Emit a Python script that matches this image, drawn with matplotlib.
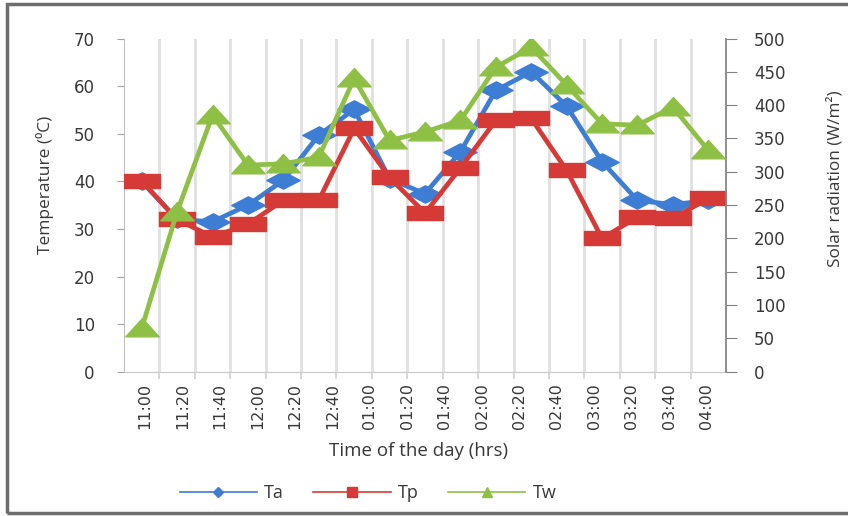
import numpy as np
import matplotlib
matplotlib.use('Agg')
import matplotlib.pyplot as plt
from matplotlib.path import Path
from matplotlib.lines import Line2D
from matplotlib.patches import Rectangle

# tick labels on the time axis (16 labels, 17 readings)
times = ['11:00', '11:20', '11:40', '12:00', '12:20', '12:40', '01:00', '01:20',
         '01:40', '02:00', '02:20', '02:40', '03:00', '03:20', '03:40', '04:00']
# temperatures (deg C), left axis
ta = [40.0, 32.0, 31.5, 35.0, 40.2, 49.7, 55.1, 40.5, 37.4, 46.2, 59.1, 63.0, 55.8, 44.1, 36.0, 35.1, 36.0]
tp = [40.0, 32.0, 28.3, 31.0, 36.0, 36.0, 51.1, 40.8, 33.3, 42.8, 52.8, 53.2, 42.3, 28.0, 32.5, 32.2, 36.4]
# solar radiation (W/m2), right axis
tw = [65, 240, 385, 310, 312, 322, 440, 347, 360, 377, 457, 487, 430, 372, 370, 397, 332]

blue = '#3D7DD3'
red = '#D63A36'
green = '#8FC046'
txt = '#383838'

# wide markers (the picture is stretched sideways)
sq = Path([(-1, -0.4), (1, -0.4), (1, 0.4), (-1, 0.4), (-1, -0.4)], closed=True)
dia = Path([(-1, 0), (0, 0.52), (1, 0), (0, -0.52), (-1, 0)], closed=True)
tri = Path([(-1, -0.5), (1, -0.5), (0, 0.6), (-1, -0.5)], closed=True)

fig = plt.figure(figsize=(8.48, 5.16), dpi=100)
ax = fig.add_axes([124 / 848, 144.3 / 516, 602 / 848, 333.2 / 516])
ax2 = ax.twinx()

x = np.arange(len(ta))
ax.plot(x, ta, color=blue, lw=3.4, marker=dia, ms=24, mec=blue, mfc=blue, zorder=3)
ax.plot(x, tp, color=red, lw=3.4, marker=sq, ms=26, mec=red, mfc=red, zorder=4)
ax2.plot(x, tw, color=green, lw=3.4, marker=tri, ms=24, mec=green, mfc=green, zorder=5)

ax.set_xlim(-0.5, len(ta) - 0.5)
ax.set_ylim(0, 70)
ax2.set_ylim(0, 500)
ax.set_yticks(range(0, 71, 10))
ax2.set_yticks(range(0, 501, 50))

# category labels spread over the full set of readings
ax.set_xticks(np.linspace(0.1, 15.95, len(times)))
ax.set_xticklabels(times, rotation=90, fontsize=11.5, color=txt, family='DejaVu Sans')
ax.tick_params(axis='x', which='major', length=0, pad=8)
ax.set_xticks(np.arange(0.5, len(ta) - 0.5, 1), minor=True)
ax.tick_params(axis='x', which='minor', length=5, color='#D0D0D0', width=1.2)
ax.grid(True, which='minor', axis='x', color='#E0E0E0', lw=2.0, zorder=0)
ax.set_axisbelow(True)

ax.tick_params(axis='y', length=5, color='#A0A0A0', pad=16, labelsize=12, labelcolor=txt)
ax2.tick_params(axis='y', length=8, color='#808080', pad=12, labelsize=12, labelcolor=txt)
for lab in ax.get_yticklabels() + ax2.get_yticklabels():
    lab.set_family('DejaVu Sans')

ax.spines['top'].set_visible(False)
ax2.spines['top'].set_visible(False)
ax.spines['left'].set_color('#BFBFBF')
ax.spines['bottom'].set_color('#C8C8C8')
ax.spines['right'].set_visible(False)
ax2.spines['left'].set_visible(False)
ax2.spines['bottom'].set_visible(False)
ax2.spines['right'].set_color('#868686')
ax2.spines['right'].set_linewidth(1.3)

ax.set_xlabel('Time of the day (hrs)', fontsize=13.5, color=txt, family='Open Sans')
ax.xaxis.label.set_va('center')
ax.xaxis.set_label_coords(0.49, -0.238)
ax.set_ylabel('Temperature (\u2070C)', fontsize=12.5, color=txt, family='Open Sans')
ax.yaxis.label.set_va('center')
ax.yaxis.set_label_coords(-0.131, 0.56)
ax2.set_ylabel('Solar radiation (W/m\u00b2)', fontsize=12.3, color=txt, family='Open Sans',
               rotation=90)
ax2.yaxis.label.set_va('center')
ax2.yaxis.set_label_coords(1.181, 0.58)

handles = [Line2D([], [], color=blue, lw=1.2, marker='D', ms=5.5),
           Line2D([], [], color=red, lw=1.2, marker='s', ms=7),
           Line2D([], [], color=green, lw=1.2, marker='^', ms=7)]
fig.legend(handles, ['Ta', 'Tp', 'Tw'], loc='center', bbox_to_anchor=(368 / 848, 23 / 516),
           ncol=3, frameon=False, handlelength=4.3, handletextpad=0.4, columnspacing=1.6,
           prop={'family': 'Open Sans', 'size': 13}, labelcolor=txt)

# chart frame
fig.add_artist(Rectangle((7 / 848, 3 / 516), 850 / 848, 509 / 516, transform=fig.transFigure,
                         fill=False, edgecolor='#6E6E6E', lw=2.5))

fig.savefig('out.png', dpi=100)
